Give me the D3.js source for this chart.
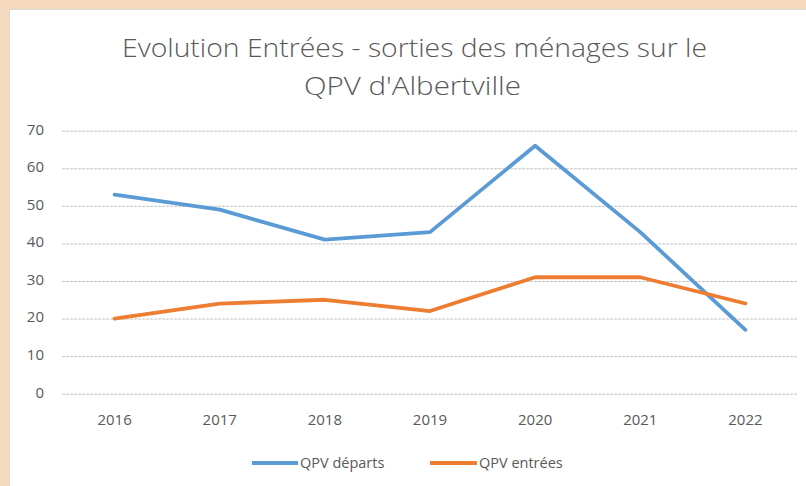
<!DOCTYPE html>
<html>
<head>
<meta charset="utf-8">
<script src="https://cdn.jsdelivr.net/npm/d3@7"></script>
<style>
  html, body { margin: 0; padding: 0; background: #F5D9BF; }
  svg { display: block; }
  text { font-family: "Liberation Sans Narrow", "Open Sans", sans-serif; }
</style>
</head>
<body>
<svg id="chart" width="806" height="486"></svg>
<script>
const years = ["2016", "2017", "2018", "2019", "2020", "2021", "2022"];
const departs = [53, 49, 41, 43, 66, 43, 17];
const entrees = [20, 24, 25, 22, 31, 31, 24];
const yTicks = [0, 10, 20, 30, 40, 50, 60, 70];
const titleLines = ["Evolution Entrées - sorties des ménages sur le", "QPV d'Albertville"];
const seriesNames = ["QPV départs", "QPV entrées"];
const colors = ["#5B9BD5", "#ED7D31"];

const svg = d3.select("#chart");

// background + chart frame
svg.append("rect").attr("x", 0).attr("y", 0).attr("width", 806).attr("height", 486).attr("fill", "#F5D9BF");
svg.append("rect").attr("x", 9.5).attr("y", 9.5).attr("width", 800).attr("height", 480)
  .attr("fill", "#ffffff").attr("stroke", "#d9d9d9").attr("stroke-width", 1);

// title
const titleG = svg.append("g");
const tl = [{t: titleLines[0], y: 57, w: 585, cx: 414.5}, {t: titleLines[1], y: 95, w: 217, cx: 412.5}];
tl.forEach(d => {
  titleG.append("text")
    .attr("x", d.cx).attr("y", d.y)
    .attr("text-anchor", "middle")
    .attr("font-size", 26)
    .attr("font-weight", 300)
    .attr("fill", "#595959")
    .attr("textLength", d.w)
    .attr("lengthAdjust", "spacingAndGlyphs")
    .text(d.t);
});

const x = d3.scaleBand().domain(years).range([62, 798]);
const y = d3.scaleLinear().domain([0, 70]).range([393.7, 130.7]);

// gridlines
const grid = svg.append("g").attr("transform", "translate(62,0)")
  .call(d3.axisLeft(y).tickValues(yTicks).tickSize(-736).tickFormat(""));
grid.select(".domain").remove();
grid.selectAll(".tick line").attr("stroke", "#c4c4c4").attr("stroke-width", 1).attr("stroke-dasharray", "3,1");

// y labels
const yAxis = svg.append("g").attr("transform", "translate(44,-1.5)")
  .call(d3.axisLeft(y).tickValues(yTicks).tickSize(0).tickPadding(0));
yAxis.select(".domain").remove();
yAxis.selectAll("text").attr("font-size", 15).attr("fill", "#595959")
  .style("font-family", "\"Liberation Sans Narrow\", \"Open Sans\", sans-serif");

// x labels
const xAxis = svg.append("g").attr("transform", "translate(0,412)")
  .call(d3.axisBottom(x).tickSize(0).tickPadding(2));
xAxis.select(".domain").remove();
xAxis.selectAll("text").attr("font-size", 15).attr("fill", "#595959")
  .style("font-family", "\"Liberation Sans Narrow\", \"Open Sans\", sans-serif");

// lines
const line = d3.line()
  .x((d, i) => x(years[i]) + x.bandwidth() / 2)
  .y(d => y(d));
[departs, entrees].forEach((s, k) => {
  svg.append("path").datum(s)
    .attr("fill", "none")
    .attr("stroke", colors[k])
    .attr("stroke-width", 3.8)
    .attr("stroke-linejoin", "round")
    .attr("stroke-linecap", "round")
    .attr("d", line);
});

// legend
const legend = [{x0: 252, x1: 298, tx: 300}, {x0: 430, x1: 477, tx: 479}];
legend.forEach((L, k) => {
  svg.append("line").attr("x1", L.x0).attr("x2", L.x1).attr("y1", 463).attr("y2", 463)
    .attr("stroke", colors[k]).attr("stroke-width", 3.8);
  svg.append("text").attr("x", L.tx).attr("y", 463).attr("dy", "0.35em")
    .attr("font-size", 14.5).attr("fill", "#595959")
    .text(seriesNames[k]);
});
</script>
</body>
</html>
